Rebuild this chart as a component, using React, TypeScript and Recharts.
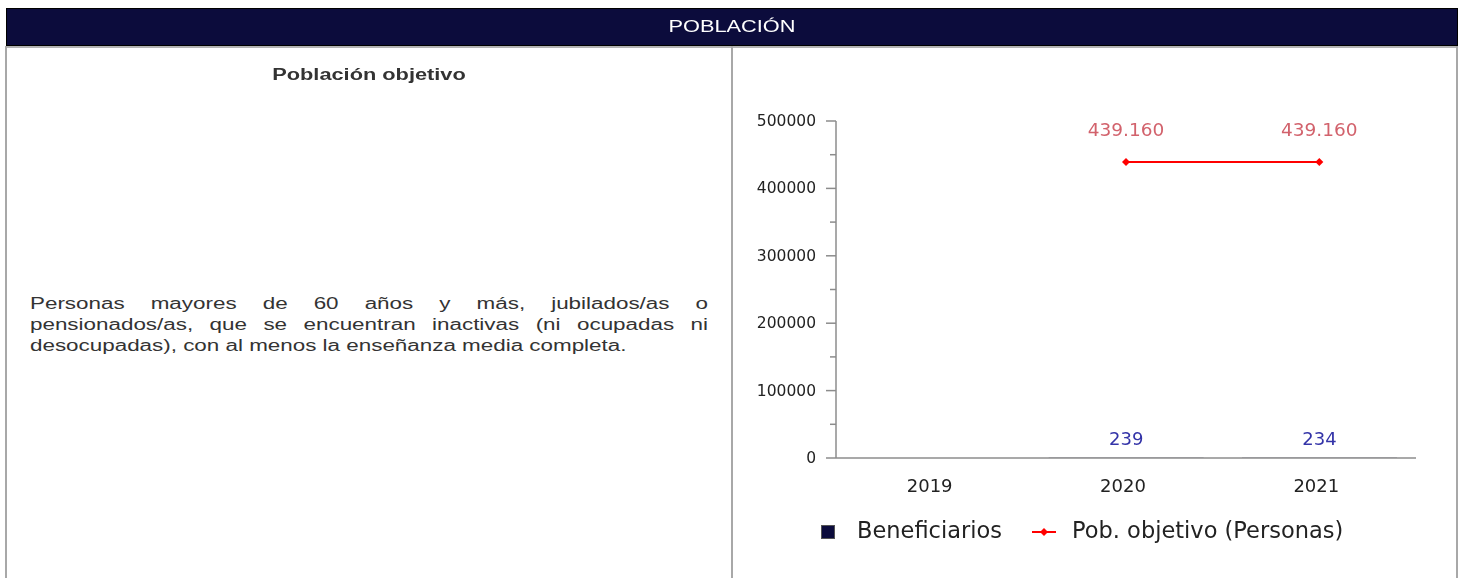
import { ComposedChart, Bar, Line, XAxis, YAxis, LabelList, Legend } from 'recharts'

const years = ['2019', '2020', '2021']
const beneficiarios = [null, 239, 234]
const poblacionObjetivo = [null, 439160, 439160]
const yTicks = [0, 50000, 100000, 150000, 200000, 250000, 300000, 350000, 400000, 450000, 500000]

const data = years.map((year, i) => ({
  year,
  beneficiarios: beneficiarios[i],
  objetivo: poblacionObjetivo[i],
}))

const NAVY = '#0c0c3c'
const RED = '#ff0000'
const AXIS = '#8c8c8c'
const CHART_FONT = '"DejaVu Sans", sans-serif'
const HTML_FONT = '"Liberation Sans", Arial, sans-serif'

const fmt = (v: number) => v.toLocaleString('es-CL')

function YTick(props: any) {
  const { x, y, payload } = props
  const major = payload.value % 100000 === 0
  return (
    <g>
      <line x1={major ? x + 10 : x + 14} x2={x + 20} y1={y} y2={y} stroke={AXIS} strokeWidth={1.5} />
      {major && (
        <text x={x} y={y} textAnchor="end" dominantBaseline="central" fontSize={15.5} fill="#222" fontFamily={CHART_FONT}>
          {payload.value}
        </text>
      )}
    </g>
  )
}

function XTick(props: any) {
  const { x, y, payload } = props
  return (
    <text x={x - 3} y={y + 19} textAnchor="middle" dominantBaseline="central" fontSize={18} fill="#222" fontFamily={CHART_FONT}>
      {payload.value}
    </text>
  )
}

function LineLabel(props: any) {
  const { x, y, value } = props
  if (value == null) return null
  return (
    <text x={x} y={y - 33} textAnchor="middle" dominantBaseline="central" fontSize={18.5} fill="#d2626c" fontFamily={CHART_FONT}>
      {fmt(value)}
    </text>
  )
}

function BarLabel(props: any) {
  const { x, y, width, value } = props
  if (value == null) return null
  return (
    <text x={x + width / 2} y={y - 19} textAnchor="middle" dominantBaseline="central" fontSize={18} fill="#3434a8" fontFamily={CHART_FONT}>
      {fmt(value)}
    </text>
  )
}

function ChartLegend() {
  return (
    <div style={{ position: 'relative', fontFamily: CHART_FONT, fontSize: 22.5, color: '#222' }}>
      <div style={{ position: 'absolute', left: 88, top: 477, width: 12, height: 12, background: NAVY, border: '1px solid #555' }} />
      <div style={{ position: 'absolute', left: 124, top: 469, whiteSpace: 'nowrap' }}>Beneficiarios</div>
      <svg style={{ position: 'absolute', left: 299, top: 478 }} width={24} height={12}>
        <line x1={0} x2={24} y1={6} y2={6} stroke={RED} strokeWidth={2} />
        <polygon points="12,2 16,6 12,10 8,6" fill={RED} />
      </svg>
      <div style={{ position: 'absolute', left: 339, top: 469, whiteSpace: 'nowrap' }}>Pob. objetivo (Personas)</div>
    </div>
  )
}

function Diamond(props: any) {
  const { cx, cy } = props
  if (cx == null || cy == null) return null
  return <polygon points={`${cx},${cy - 4} ${cx + 4},${cy} ${cx},${cy + 4} ${cx - 4},${cy}`} fill={RED} />
}

export default function App() {
  return (
    <div style={{ position: 'fixed', left: 0, top: 0, width: 1470, height: 578, background: '#fff', fontFamily: HTML_FONT }}>
      {/* header */}
      <div
        style={{
          position: 'absolute', left: 6, top: 8, width: 1450, height: 36, background: NAVY,
          border: '1px solid #000', color: '#fff',
        }}
      >
        <div style={{ position: 'absolute', left: 0, right: 0, top: 9, textAlign: 'center', fontSize: 16, transform: 'scaleX(1.36)' }}>
          POBLACIÓN
        </div>
      </div>
      {/* table lines */}
      <div style={{ position: 'absolute', left: 6, top: 46, width: 1452, height: 2, background: '#b4b4b4' }} />
      <div style={{ position: 'absolute', left: 5, top: 46, width: 2, height: 540, background: '#a8a8a8' }} />
      <div style={{ position: 'absolute', left: 731, top: 46, width: 2, height: 540, background: '#a8a8a8' }} />
      <div style={{ position: 'absolute', left: 1456, top: 46, width: 2, height: 540, background: '#a8a8a8' }} />

      {/* left cell */}
      <div style={{ position: 'absolute', left: 7, width: 724, top: 66, textAlign: 'center', fontWeight: 'bold', fontSize: 16, color: '#333', transform: 'scaleX(1.36)' }}>
        Población objetivo
      </div>
      <div
        style={{
          position: 'absolute', left: 30, top: 293, width: 484.3, fontSize: 16, lineHeight: '21px',
          textAlign: 'justify', color: '#333', transform: 'scaleX(1.4)', transformOrigin: 'left top',
        }}
      >
        Personas mayores de 60 años y más, jubilados/as o pensionados/as, que se encuentran inactivas (ni ocupadas ni desocupadas), con al menos la enseñanza media completa.
      </div>

      {/* chart */}
      <div style={{ position: 'absolute', left: 733, top: 48 }}>
        <ComposedChart width={723} height={530} data={data} margin={{ top: 73, right: 40, left: 0, bottom: 90 }}>
          <XAxis
            dataKey="year"
            axisLine={{ stroke: AXIS, strokeWidth: 1.5 }}
            tickLine={false}
            tick={<XTick />}
            height={30}
          />
          <YAxis
            domain={[0, 500000]}
            ticks={yTicks}
            interval={0}
            width={103}
            tickSize={10}
            tickMargin={10}
            tickLine={false}
            axisLine={{ stroke: AXIS, strokeWidth: 1.5 }}
            tick={<YTick />}
          />
          <Bar dataKey="beneficiarios" name="Beneficiarios" fill={NAVY} isAnimationActive={false}>
            <LabelList dataKey="beneficiarios" content={<BarLabel />} />
          </Bar>
          <Line
            dataKey="objetivo"
            name="Pob. objetivo (Personas)"
            stroke={RED}
            strokeWidth={2}
            dot={<Diamond />}
            activeDot={false}
            isAnimationActive={false}
          >
            <LabelList dataKey="objetivo" content={<LineLabel />} />
          </Line>
          <Legend
            content={<ChartLegend />}
            wrapperStyle={{ position: 'absolute', left: 0, top: 0, width: 0, height: 0 }}
          />
        </ComposedChart>
      </div>
    </div>
  )
}
